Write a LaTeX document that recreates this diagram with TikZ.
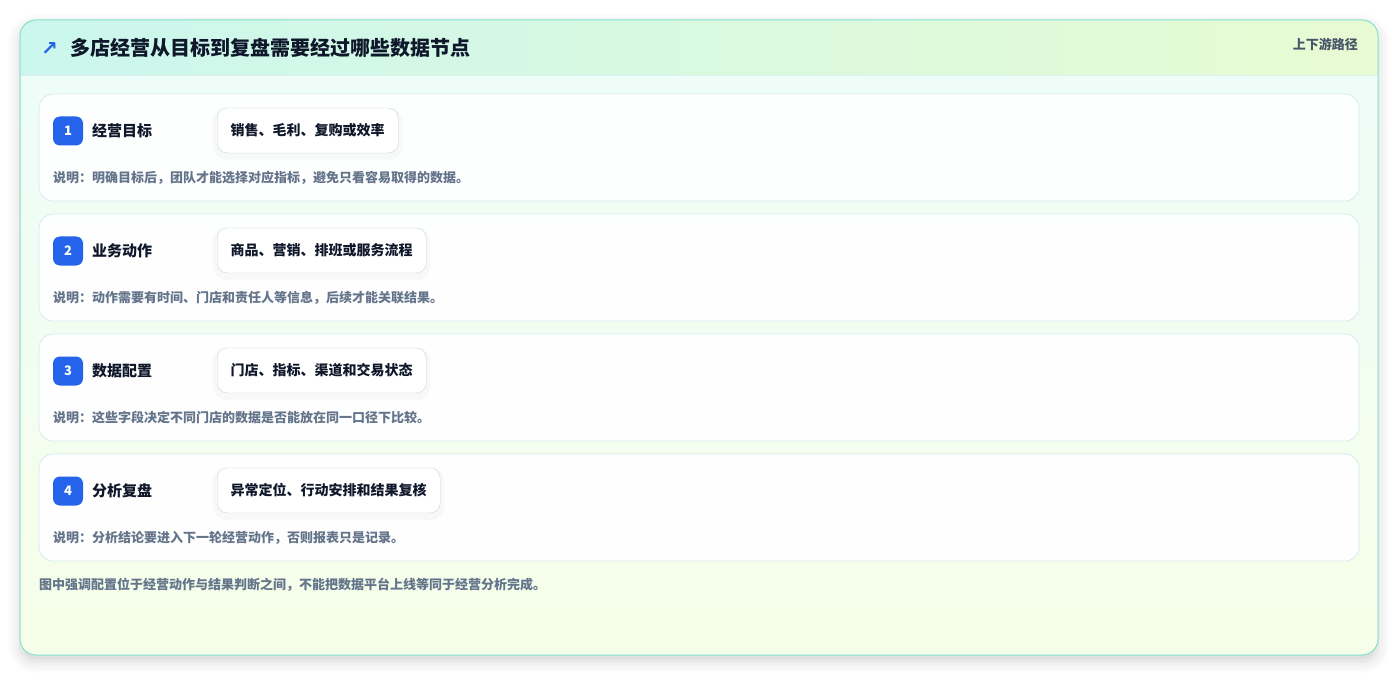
\documentclass[tikz,border=0pt]{standalone}
\usepackage{fontspec}
\setmainfont{Noto Sans CJK SC}
\newfontfamily\symfont{DejaVu Sans}
\usetikzlibrary{shadows.blur}
\definecolor{frame}{HTML}{86E0CC}
\definecolor{headl}{HTML}{CBF7EE}
\definecolor{headr}{HTML}{E7FBD2}
\definecolor{bodytop}{HTML}{EFFDF9}
\definecolor{bodybot}{HTML}{F5FEE8}
\definecolor{headrule}{HTML}{D9F3EC}
\definecolor{cardline}{HTML}{D4ECEF}
\definecolor{pillline}{HTML}{C4D4EE}
\definecolor{badgeblue}{HTML}{2563EB}
\definecolor{ink}{HTML}{0F172A}
\definecolor{muted}{HTML}{64748B}
\definecolor{slate}{HTML}{475569}
\begin{document}
\begin{tikzpicture}[x=1pt,y=-1pt,line join=round,
  card/.style={draw=cardline,fill=white,fill opacity=.9,rounded corners=14pt,line width=.8pt},
  badge/.style={fill=badgeblue,text=white,rounded corners=7pt,minimum width=30pt,minimum height=29pt,inner sep=0pt,font=\fontsize{13}{13}\bfseries},
  steplabel/.style={anchor=west,text=ink,inner sep=0pt,font=\fontsize{15}{15}\bfseries},
  pill/.style={anchor=west,draw=pillline,fill=white,rounded corners=10pt,minimum height=45pt,inner xsep=13.5pt,text=ink,font=\fontsize{14}{14}\bfseries},
  pillshade/.style={fill=black,opacity=.022,rounded corners=13pt},
  note/.style={anchor=west,text=muted,inner sep=0pt,font=\fontsize{13}{13}\bfseries}]
\useasboundingbox (0,0) rectangle (1399,676);
% outer card
\path[fill=bodytop,rounded corners=16pt,blur shadow={shadow xshift=0pt,shadow yshift=-6pt,shadow blur radius=12pt,shadow opacity=18}] (20,20) rectangle (1378,655);
\begin{scope}
\clip[rounded corners=16pt] (20,20) rectangle (1378,655);
\shade[top color=bodytop,bottom color=bodybot] (20,75) rectangle (1378,655);
\shade[left color=headl,right color=headr] (20,20) rectangle (1378,75);
\end{scope}
\draw[headrule] (20,75)--(1378,75);
\draw[frame,line width=1pt,rounded corners=16pt] (20,20) rectangle (1378,655);
% header
\node[anchor=west,text=badgeblue,inner sep=0pt,font=\symfont\bfseries\fontsize{20}{20}\selectfont] (icon) at (41,49) {↗};
\node[anchor=west,text=ink,inner sep=0pt,font=\fontsize{20}{20}\bfseries] (title) at (70,48) {多店经营从目标到复盘需要经过哪些数据节点};
\node[anchor=east,text=slate,inner sep=0pt,font=\fontsize{13}{13}\bfseries] (tag) at (1358,44) {上下游路径};
% steps
\foreach \i/\lab/\txt/\desc in {1/经营目标/销售、毛利、复购或效率/说明：明确目标后，团队才能选择对应指标，避免只看容易取得的数据。,
  2/业务动作/商品、营销、排班或服务流程/说明：动作需要有时间、门店和责任人等信息，后续才能关联结果。,
  3/数据配置/门店、指标、渠道和交易状态/说明：这些字段决定不同门店的数据是否能放在同一口径下比较。,
  4/分析复盘/异常定位、行动安排和结果复核/说明：分析结论要进入下一轮经营动作，否则报表只是记录。}{
  \pgfmathsetmacro\cy{94+120*(\i-1)}
  \draw[card] (39,\cy) rectangle (1359,\cy+107);
  \node[badge] (badge\i) at (68,\cy+37) {\i};
  \node[steplabel] (lab\i) at (92,\cy+37) {\lab};
  \node[pill,opacity=0] (ghost\i) at (217,\cy+36.5) {\txt};
  \fill[pillshade] ([xshift=-4pt,yshift=-7pt]ghost\i.south west) rectangle ([xshift=4pt,yshift=0pt]ghost\i.north east);
  \node[pill] (pill\i) at (217,\cy+36.5) {\txt};
  \node[note] (note\i) at (53,\cy+84) {\desc};
}
\node[note] (foot) at (39,585) {图中强调配置位于经营动作与结果判断之间，不能把数据平台上线等同于经营分析完成。};
\end{tikzpicture}
\end{document}
